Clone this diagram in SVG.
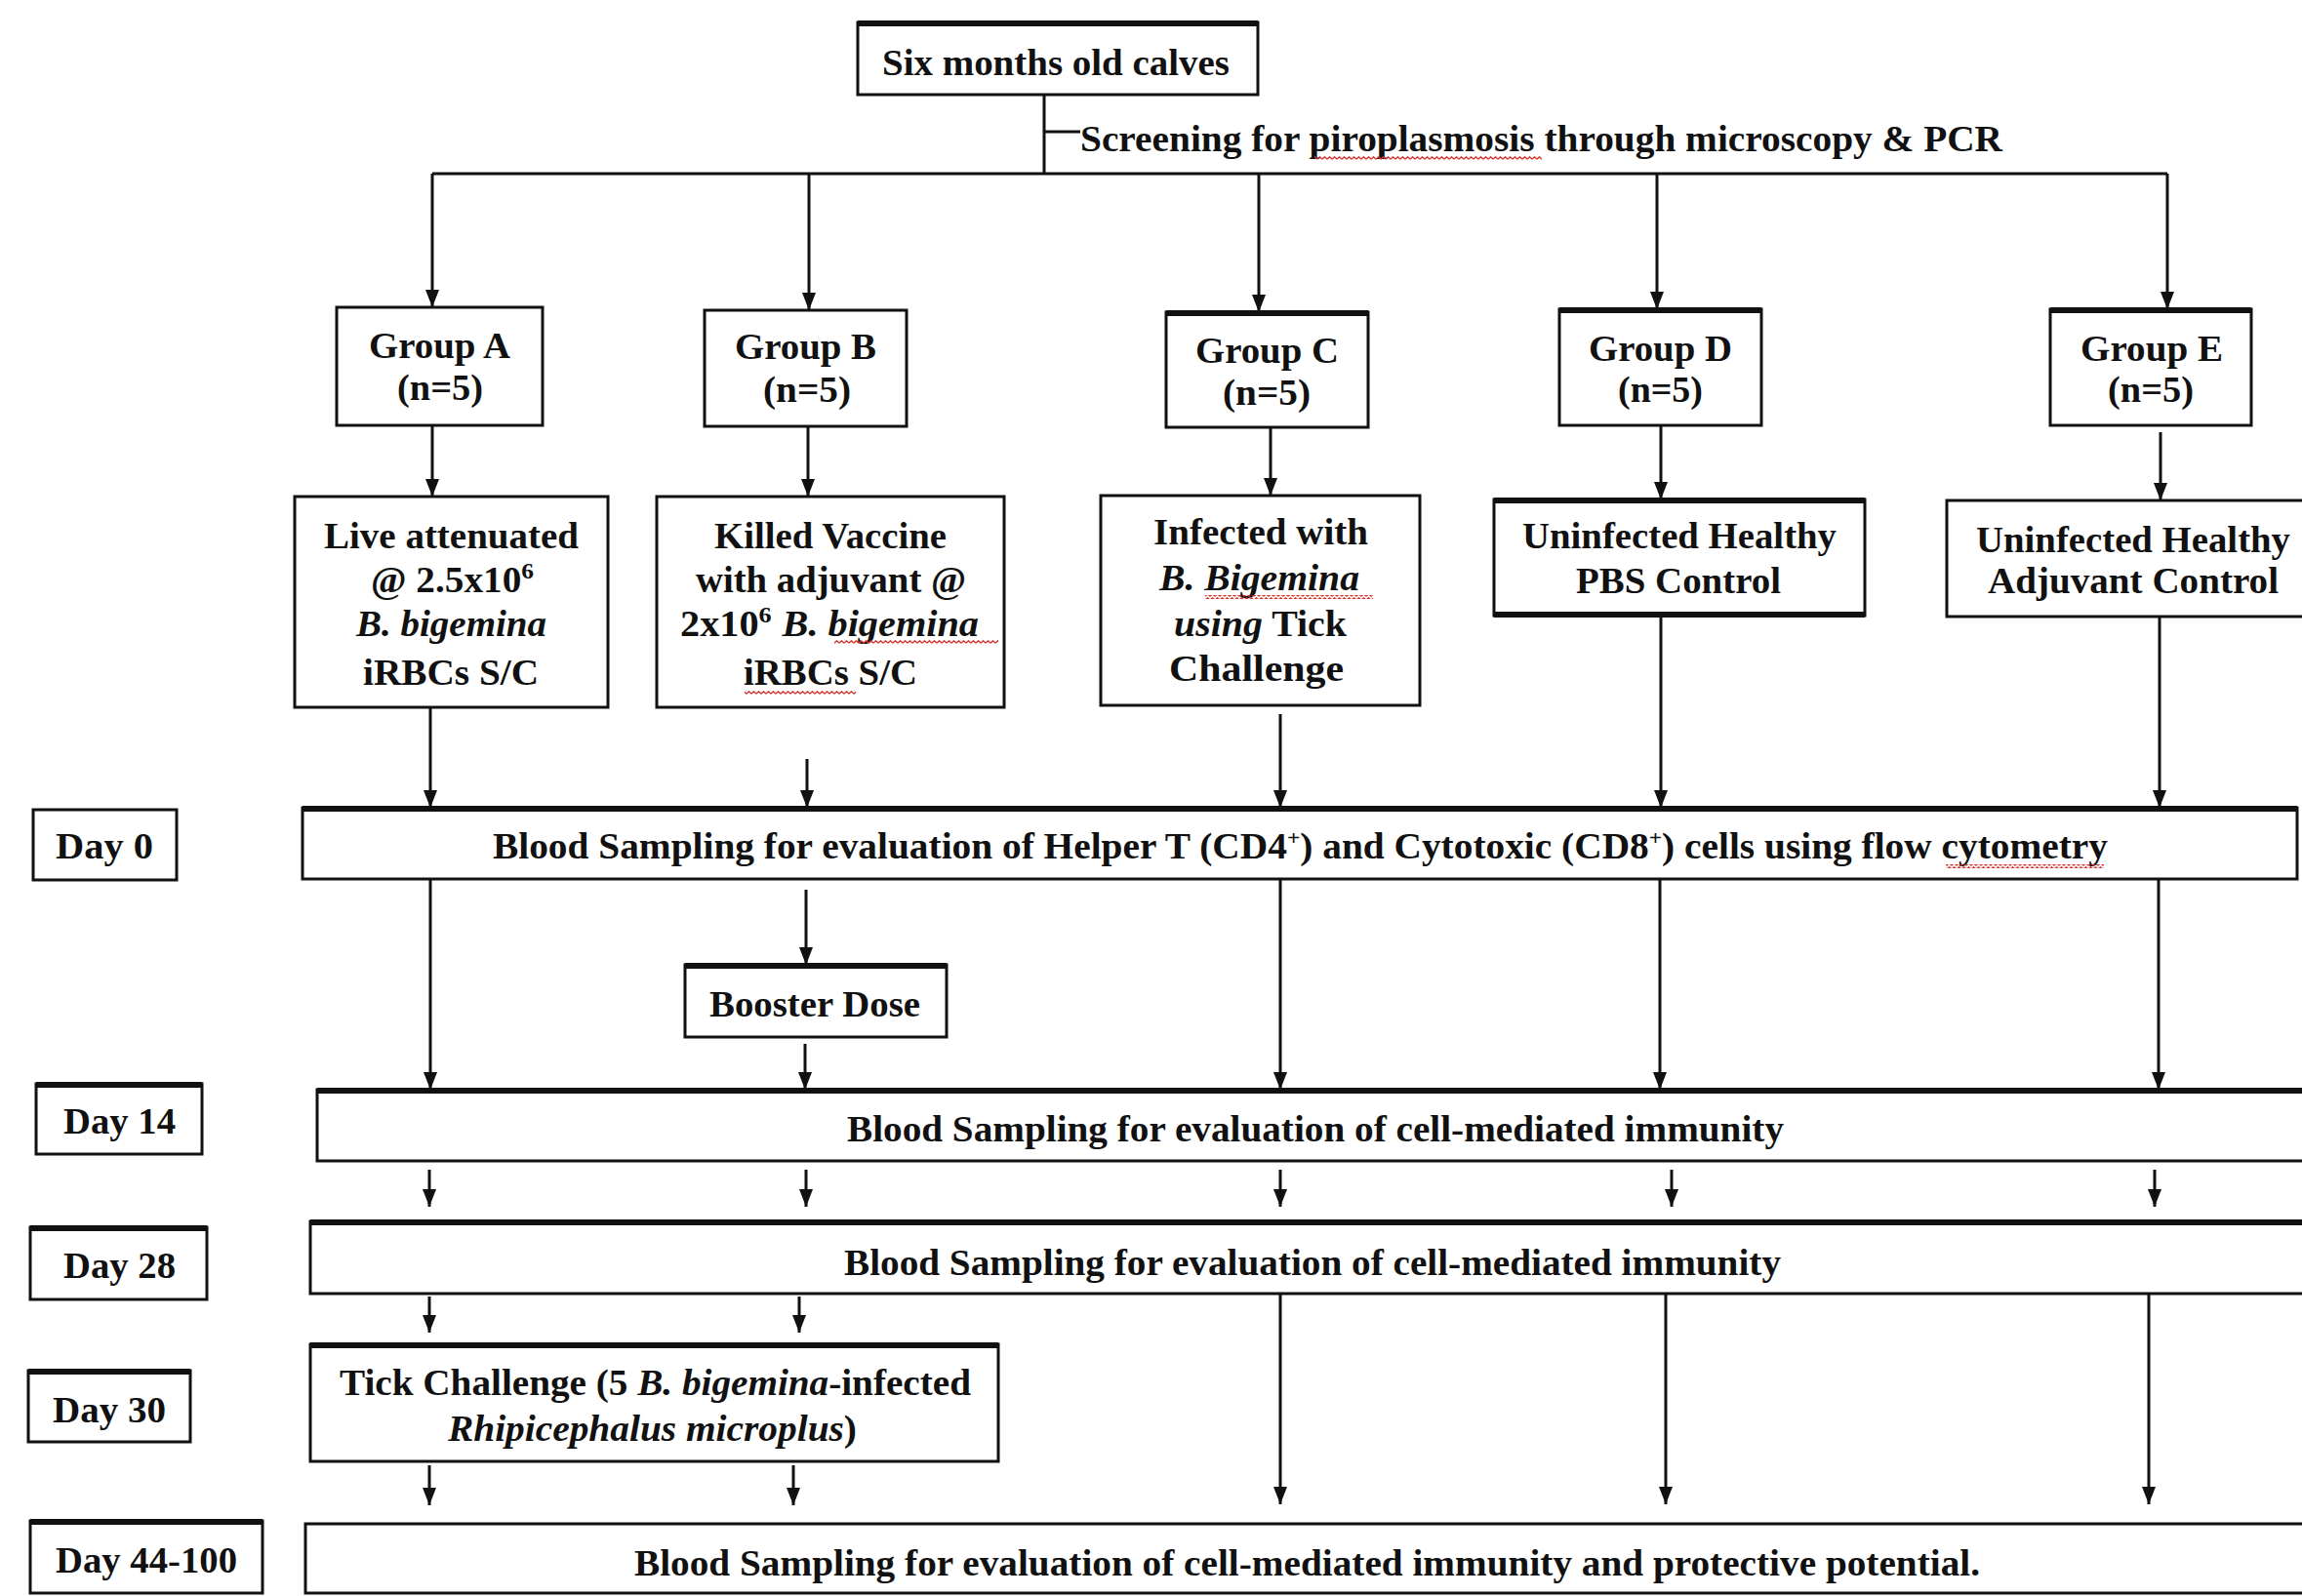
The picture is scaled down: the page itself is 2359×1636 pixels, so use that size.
<svg xmlns="http://www.w3.org/2000/svg" width="2359" height="1636" viewBox="0 0 2359 1636">
<style>
.bg{fill:#fff}
.box{fill:#fff;stroke:#111;stroke-width:3}
.top{stroke:#111;stroke-width:6}
.t{font-family:"Liberation Serif","Times New Roman",serif;font-weight:bold;font-size:37px;fill:#111}
.i{font-style:italic}
.c{fill:none;stroke:#111;stroke-width:3}
.ar{fill:none;stroke:#111;stroke-width:3;marker-end:url(#ah)}
.sq{fill:url(#wave)}
</style>
<defs>
<marker id="ah" markerUnits="userSpaceOnUse" markerWidth="18" markerHeight="14" viewBox="0 0 18 14" refX="18" refY="7" orient="auto">
<path d="M0,0 L18,7 L0,14 z" fill="#111"/>
</marker>
<pattern id="wave" width="5" height="4" patternUnits="userSpaceOnUse">
<path d="M0,3.2 L2.5,0.8 L5,3.2" stroke="#d2322d" stroke-width="1.3" fill="none"/>
</pattern>
</defs>
<rect class="bg" x="0" y="0" width="2359" height="1636"/>

<g id="connectors">
<path class="c" d="M1070,97 V178 M1070,135 H1107 M443,178 H2221"/>
<path class="ar" d="M443,178 V315"/>
<path class="ar" d="M829,178 V318"/>
<path class="ar" d="M1290,178 V320"/>
<path class="ar" d="M1698,178 V317"/>
<path class="ar" d="M2221,178 V317"/>
<path class="ar" d="M443,436 V509"/>
<path class="ar" d="M828,437 V509"/>
<path class="ar" d="M1302,438 V508"/>
<path class="ar" d="M1702,436 V512"/>
<path class="ar" d="M2214,443 V513"/>
<path class="ar" d="M441,725 V828"/>
<path class="ar" d="M827,778 V828"/>
<path class="ar" d="M1312,732 V828"/>
<path class="ar" d="M1702,631 V828"/>
<path class="ar" d="M2213,632 V828"/>
<path class="ar" d="M441,901 V1117"/>
<path class="ar" d="M826,912 V989"/>
<path class="ar" d="M825,1070 V1117"/>
<path class="ar" d="M1312,901 V1117"/>
<path class="ar" d="M1701,901 V1117"/>
<path class="ar" d="M2212,901 V1117"/>
<path class="ar" d="M440,1199 V1237"/>
<path class="ar" d="M826,1199 V1237"/>
<path class="ar" d="M1312,1199 V1237"/>
<path class="ar" d="M1713,1199 V1237"/>
<path class="ar" d="M2208,1199 V1237"/>
<path class="ar" d="M440,1329 V1366"/>
<path class="ar" d="M819,1329 V1366"/>
<path class="ar" d="M1312,1327 V1542"/>
<path class="ar" d="M1707,1327 V1542"/>
<path class="ar" d="M2202,1327 V1542"/>
<path class="ar" d="M440,1502 V1543"/>
<path class="ar" d="M813,1502 V1543"/>
</g>

<g id="calves">
<rect class="box" x="879" y="23" width="410" height="74"/>
<line class="top" x1="879" y1="24" x2="1289" y2="24"/>
<text class="t" x="904" y="77" textLength="356" lengthAdjust="spacingAndGlyphs">Six months old calves</text>
</g>

<g id="screening">
<text class="t" x="1107" y="155" textLength="945" lengthAdjust="spacingAndGlyphs">Screening for piroplasmosis through microscopy &amp; PCR</text>
<rect class="sq" x="1347" y="160" width="233" height="4"/>
</g>

<g id="groupA">
<rect class="box" x="345" y="315" width="211" height="121"/>
<text class="t" x="378" y="367" textLength="145" lengthAdjust="spacingAndGlyphs">Group A</text>
<text class="t" x="407" y="410" textLength="88" lengthAdjust="spacingAndGlyphs">(n=5)</text>
</g>
<g id="groupB">
<rect class="box" x="722" y="318" width="207" height="119"/>
<text class="t" x="753" y="368" textLength="145" lengthAdjust="spacingAndGlyphs">Group B</text>
<text class="t" x="782" y="412" textLength="90" lengthAdjust="spacingAndGlyphs">(n=5)</text>
</g>
<g id="groupC">
<rect class="box" x="1195" y="320" width="207" height="118"/>
<line class="top" x1="1195" y1="321" x2="1402" y2="321"/>
<text class="t" x="1225" y="372" textLength="147" lengthAdjust="spacingAndGlyphs">Group C</text>
<text class="t" x="1253" y="415" textLength="90" lengthAdjust="spacingAndGlyphs">(n=5)</text>
</g>
<g id="groupD">
<rect class="box" x="1598" y="317" width="207" height="119"/>
<line class="top" x1="1598" y1="318" x2="1805" y2="318"/>
<text class="t" x="1628" y="370" textLength="147" lengthAdjust="spacingAndGlyphs">Group D</text>
<text class="t" x="1658" y="412" textLength="87" lengthAdjust="spacingAndGlyphs">(n=5)</text>
</g>
<g id="groupE">
<rect class="box" x="2101" y="317" width="206" height="119"/>
<line class="top" x1="2101" y1="318" x2="2307" y2="318"/>
<text class="t" x="2132" y="370" textLength="146" lengthAdjust="spacingAndGlyphs">Group E</text>
<text class="t" x="2160" y="412" textLength="88" lengthAdjust="spacingAndGlyphs">(n=5)</text>
</g>

<g id="liveAttenuated">
<rect class="box" x="302" y="509" width="321" height="216"/>
<text class="t" x="332" y="562" textLength="261" lengthAdjust="spacingAndGlyphs">Live attenuated</text>
<text class="t" x="380" y="607" textLength="167" lengthAdjust="spacingAndGlyphs">@ 2.5x10<tspan dy="-14" font-size="24">6</tspan></text>
<text class="t i" x="365" y="652" textLength="195" lengthAdjust="spacingAndGlyphs">B. bigemina</text>
<text class="t" x="372" y="702" textLength="180" lengthAdjust="spacingAndGlyphs">iRBCs S/C</text>
</g>

<g id="killedVaccine">
<rect class="box" x="673" y="509" width="356" height="216"/>
<text class="t" x="732" y="562" textLength="238" lengthAdjust="spacingAndGlyphs">Killed Vaccine</text>
<text class="t" x="713" y="607" textLength="277" lengthAdjust="spacingAndGlyphs">with adjuvant @</text>
<text class="t" x="697" y="652" textLength="306" lengthAdjust="spacingAndGlyphs">2x10<tspan dy="-14" font-size="24">6</tspan><tspan dy="14" dx="10" class="i">B. bigemina</tspan></text>
<text class="t" x="762" y="702" textLength="178" lengthAdjust="spacingAndGlyphs">iRBCs S/C</text>
<rect class="sq" x="855" y="656" width="168" height="4"/>
<rect class="sq" x="763" y="708" width="114" height="4"/>
</g>

<g id="infected">
<rect class="box" x="1128" y="508" width="327" height="215"/>
<text class="t" x="1182" y="558" textLength="220" lengthAdjust="spacingAndGlyphs">Infected with</text>
<text class="t i" x="1188" y="605" textLength="205" lengthAdjust="spacingAndGlyphs">B. Bigemina</text>
<text class="t" x="1203" y="652" textLength="177" lengthAdjust="spacingAndGlyphs"><tspan class="i">using</tspan> Tick</text>
<text class="t" x="1198" y="698" textLength="179" lengthAdjust="spacingAndGlyphs">Challenge</text>
<rect class="sq" x="1235" y="610" width="172" height="4"/>
</g>

<g id="pbsControl">
<rect class="box" x="1531" y="512" width="380" height="119"/>
<line class="top" x1="1531" y1="513" x2="1911" y2="513"/>
<line class="top" x1="1531" y1="630" x2="1911" y2="630"/>
<text class="t" x="1560" y="562" textLength="322" lengthAdjust="spacingAndGlyphs">Uninfected Healthy</text>
<text class="t" x="1615" y="608" textLength="210" lengthAdjust="spacingAndGlyphs">PBS Control</text>
</g>

<g id="adjuvantControl">
<rect class="box" x="1995" y="513" width="375" height="119"/>
<text class="t" x="2025" y="566" textLength="322" lengthAdjust="spacingAndGlyphs">Uninfected Healthy</text>
<text class="t" x="2037" y="608" textLength="298" lengthAdjust="spacingAndGlyphs">Adjuvant Control</text>
</g>

<g id="day0">
<rect class="box" x="34" y="830" width="147" height="72"/>
<text class="t" x="57" y="880" textLength="100" lengthAdjust="spacingAndGlyphs">Day 0</text>
</g>
<g id="day0Sampling">
<rect class="box" x="310" y="828" width="2044" height="73"/>
<line class="top" x1="310" y1="829" x2="2354" y2="829"/>
<text class="t" x="505" y="880" textLength="1655" lengthAdjust="spacingAndGlyphs">Blood Sampling for evaluation of Helper T (CD4<tspan dy="-14" font-size="22">+</tspan><tspan dy="14">) and Cytotoxic (CD8</tspan><tspan dy="-14" font-size="22">+</tspan><tspan dy="14">) cells using flow cytometry</tspan></text>
<rect class="sq" x="1994" y="886" width="162" height="4"/>
</g>

<g id="booster">
<rect class="box" x="702" y="989" width="268" height="74"/>
<line class="top" x1="702" y1="990" x2="970" y2="990"/>
<text class="t" x="727" y="1042" textLength="216" lengthAdjust="spacingAndGlyphs">Booster Dose</text>
</g>

<g id="day14">
<rect class="box" x="37" y="1111" width="170" height="72"/>
<line class="top" x1="37" y1="1112" x2="207" y2="1112"/>
<text class="t" x="65" y="1162" textLength="115" lengthAdjust="spacingAndGlyphs">Day 14</text>
</g>
<g id="day14Sampling">
<rect class="box" x="325" y="1117" width="2045" height="73"/>
<line class="top" x1="325" y1="1118" x2="2370" y2="1118"/>
<text class="t" x="868" y="1170" textLength="960" lengthAdjust="spacingAndGlyphs">Blood Sampling for evaluation of cell-mediated immunity</text>
</g>

<g id="day28">
<rect class="box" x="31" y="1258" width="181" height="74"/>
<line class="top" x1="31" y1="1259" x2="212" y2="1259"/>
<text class="t" x="65" y="1310" textLength="115" lengthAdjust="spacingAndGlyphs">Day 28</text>
</g>
<g id="day28Sampling">
<rect class="box" x="318" y="1252" width="2052" height="74"/>
<line class="top" x1="318" y1="1253" x2="2370" y2="1253"/>
<text class="t" x="865" y="1307" textLength="960" lengthAdjust="spacingAndGlyphs">Blood Sampling for evaluation of cell-mediated immunity</text>
</g>

<g id="day30">
<rect class="box" x="29" y="1405" width="166" height="73"/>
<line class="top" x1="29" y1="1406" x2="195" y2="1406"/>
<text class="t" x="54" y="1458" textLength="116" lengthAdjust="spacingAndGlyphs">Day 30</text>
</g>
<g id="tickChallenge">
<rect class="box" x="318" y="1378" width="705" height="120"/>
<line class="top" x1="318" y1="1379" x2="1023" y2="1379"/>
<text class="t" x="348" y="1430" textLength="647" lengthAdjust="spacingAndGlyphs">Tick Challenge (5 <tspan class="i">B. bigemina</tspan>-infected</text>
<text class="t" x="459" y="1477" textLength="419" lengthAdjust="spacingAndGlyphs"><tspan class="i">Rhipicephalus microplus</tspan>)</text>
</g>

<g id="day44">
<rect class="box" x="31" y="1559" width="238" height="74"/>
<line class="top" x1="31" y1="1560" x2="269" y2="1560"/>
<text class="t" x="57" y="1612" textLength="186" lengthAdjust="spacingAndGlyphs">Day 44-100</text>
</g>
<g id="day44Sampling">
<rect class="box" x="313" y="1562" width="2057" height="71"/>
<text class="t" x="650" y="1615" textLength="1379" lengthAdjust="spacingAndGlyphs">Blood Sampling for evaluation of cell-mediated immunity and protective potential.</text>
</g>
</svg>
